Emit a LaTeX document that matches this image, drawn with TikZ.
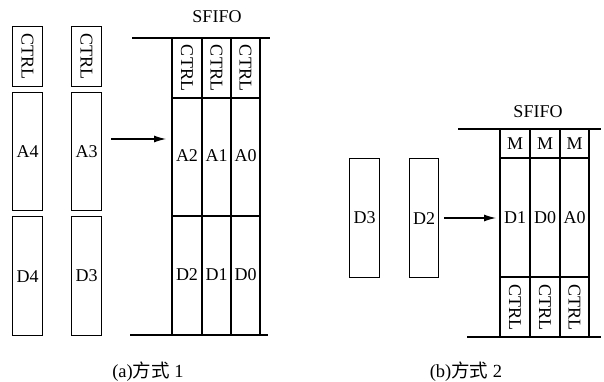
\documentclass[tikz,border=0pt]{standalone}
\usepackage{fontspec}
\setmainfont{Liberation Serif}
\newfontfamily\cjk{Noto Sans CJK SC}
\usetikzlibrary{arrows.meta}
\begin{document}
\begin{tikzpicture}[x=1pt,y=-1pt,
  lbl/.style={font=\fontsize{18}{18}\selectfont, inner sep=0pt},
  vlbl/.style={lbl, rotate=-90},
  cell/.style={draw, line width=1.2pt, minimum width=30pt, inner sep=0pt, anchor=north west},
  fifo/.style={line width=1.3pt},
  arr/.style={line width=1.1pt, -{Latex[length=12pt,width=7pt]}},
  capt/.style={font=\fontsize{18.5}{18.5}\selectfont, inner sep=0pt}
]
\useasboundingbox (0,0) rectangle (604,382);
% ---------- (a) ----------
\node[cell, minimum height=60pt] (c1) at (12,26) {};
\node[vlbl] at (c1.center) {CTRL};
\node[cell, minimum height=118pt] (a4) at (12,92) {};
\node[lbl] at (a4.center) {A4};
\node[cell, minimum height=119pt] (d4) at (12,216) {};
\node[lbl] at (d4.center) {D4};
\node[cell, minimum height=60pt] (c2) at (71,26) {};
\node[vlbl] at (c2.center) {CTRL};
\node[cell, minimum height=118pt] (a3) at (71,92) {};
\node[lbl] at (a3.center) {A3};
\node[cell, minimum height=119pt] (d3) at (71,216) {};
\node[lbl] at (d3.center) {D3};
\coordinate (fa) at (166,139);
\draw[arr, shorten <=9pt] (a3.east |- fa) -- (fa);
\node[lbl] (sfa) at (217,17) {SFIFO};
\draw[fifo] (132,38) -- (270,38);
\draw[fifo] (130,335) -- (268,335);
\foreach \x in {172,202,231,260} \draw[fifo] (\x,38) -- (\x,335);
\draw[fifo] (172,98) -- (260,98);
\draw[fifo] (172,216) -- (260,216);
\foreach \x/\a/\d in {187/A2/D2,216.5/A1/D1,245.5/A0/D0}{
  \node[vlbl] at (\x,68) {CTRL};
  \node[lbl] at (\x,156) {\a};
  \node[lbl] at (\x,275) {\d};
}
\node[capt] (capa) at (148,372) {(a)\cjk 方式\rmfamily{} 1};
% ---------- (b) ----------
\node[cell, minimum height=119pt, minimum width=30pt] (bd3) at (349,158) {};
\node[lbl] at (bd3.center) {D3};
\node[cell, minimum height=119pt, minimum width=29pt] (bd2) at (409,158) {};
\node[lbl] at (bd2.center) {D2};
\coordinate (fb) at (496,218);
\draw[arr, shorten <=5pt] (bd2.east |- fb) -- (fb);
\node[lbl] (sfb) at (538,112) {SFIFO};
\draw[fifo] (458,129) -- (601,129);
\draw[fifo] (467,337) -- (601,337);
\foreach \x in {500,530,560,589} \draw[fifo] (\x,129) -- (\x,337);
\draw[fifo] (500,158) -- (589,158);
\draw[fifo] (500,277) -- (589,277);
\foreach \x/\d in {515/D1,545/D0,574.5/A0}{
  \node[lbl] at (\x,143.5) {M};
  \node[lbl] at (\x,218) {\d};
  \node[vlbl] at (\x,307) {CTRL};
}
\node[capt] (capb) at (466,372) {(b)\cjk 方式\rmfamily{} 2};
\end{tikzpicture}
\end{document}
